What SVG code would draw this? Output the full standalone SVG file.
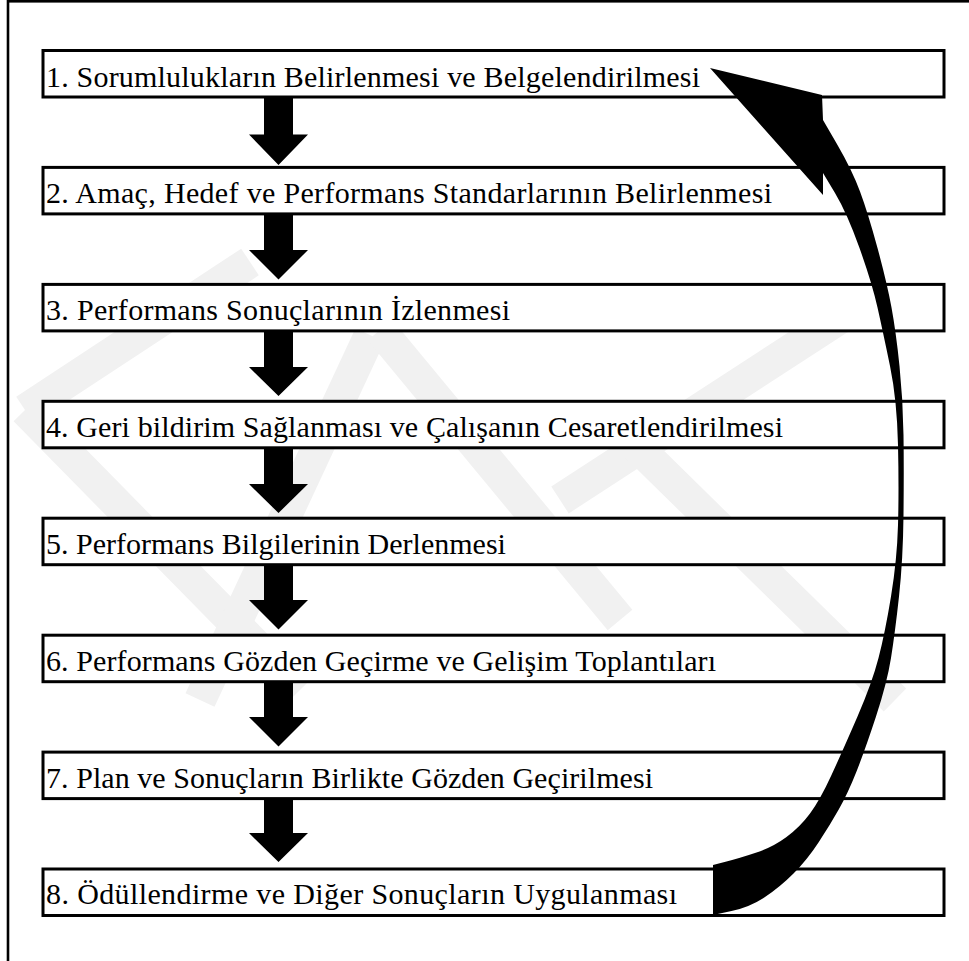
<svg xmlns="http://www.w3.org/2000/svg" width="969" height="961" viewBox="0 0 969 961">
<style>
.frame{fill:none;stroke:#000;stroke-width:2.6}
.box{fill:#fff;stroke:#000;stroke-width:3}
.lbl{font-family:'Liberation Serif','Times New Roman',serif;font-size:30px;fill:#000}
.wm{stroke:#f1f1f1;stroke-width:32;stroke-linecap:butt;fill:none}
.arr{fill:#000;stroke:none}
</style>
<rect width="969" height="961" fill="#fff"/>
<g id="watermark">
<line class="wm" x1="25" y1="410" x2="250" y2="262"/>
<line class="wm" x1="25" y1="410" x2="300" y2="690"/>
<line class="wm" x1="200" y1="700" x2="370" y2="335"/>
<line class="wm" x1="380" y1="330" x2="620" y2="620"/>
<line class="wm" x1="560" y1="500" x2="840" y2="318"/>
<line class="wm" x1="620" y1="430" x2="895" y2="700"/>
</g>
<rect class="frame" x="8" y="1.3" width="1000" height="1000"/>
<g id="node1"><rect class="box" x="43" y="50.5" width="901" height="46.5"/><text class="lbl" x="46" y="87" textLength="654" lengthAdjust="spacing">1. Sorumlulukların Belirlenmesi ve  Belgelendirilmesi</text></g>
<g id="node2"><rect class="box" x="43" y="167.4" width="901" height="46.5"/><text class="lbl" x="46" y="203" textLength="726" lengthAdjust="spacing">2. Amaç, Hedef ve Performans Standarlarının Belirlenmesi</text></g>
<g id="node3"><rect class="box" x="43" y="284.4" width="901" height="46.5"/><text class="lbl" x="46" y="319.5" textLength="464" lengthAdjust="spacing">3. Performans Sonuçlarının İzlenmesi</text></g>
<g id="node4"><rect class="box" x="43" y="401.3" width="901" height="46.5"/><text class="lbl" x="46" y="436.5" textLength="737" lengthAdjust="spacing">4. Geri bildirim Sağlanması ve Çalışanın Cesaretlendirilmesi</text></g>
<g id="node5"><rect class="box" x="43" y="518.2" width="901" height="46.5"/><text class="lbl" x="46" y="553.5">5. Performans Bilgilerinin Derlenmesi</text></g>
<g id="node6"><rect class="box" x="43" y="635.2" width="901" height="46.5"/><text class="lbl" x="46" y="670.5" textLength="670" lengthAdjust="spacing">6. Performans Gözden Geçirme ve Gelişim Toplantıları</text></g>
<g id="node7"><rect class="box" x="43" y="752.1" width="901" height="46.5"/><text class="lbl" x="46" y="787.5" textLength="607" lengthAdjust="spacing">7. Plan ve Sonuçların Birlikte Gözden Geçirilmesi</text></g>
<g id="node8"><rect class="box" x="43" y="869" width="901" height="46.5"/><text class="lbl" x="46" y="904" textLength="631" lengthAdjust="spacing">8. Ödüllendirme ve Diğer Sonuçların Uygulanması</text></g>
<g id="connectors">
<polygon class="arr" points="264,97 293,97 293,134.5 308,134.5 278.5,165 249,134.5 264,134.5"/>
<polygon class="arr" points="264,214 293,214 293,250 308,250 278.5,279.5 249,250 264,250"/>
<polygon class="arr" points="264,331 293,331 293,367 308,367 278.5,396 249,367 264,367"/>
<polygon class="arr" points="264,448 293,448 293,484 308,484 278.5,513 249,484 264,484"/>
<polygon class="arr" points="264,565 293,565 293,600 308,600 278.5,629.5 249,600 264,600"/>
<polygon class="arr" points="264,682 293,682 293,717 308,717 278.5,746.5 249,717 264,717"/>
<polygon class="arr" points="264,798.5 293,798.5 293,833 308,833 278.5,862 249,833 264,833"/>
<path id="loopback" class="arr" d="M823,120 L837.5,145 Q852,170 860,191.5 Q868,213 877.5,248 Q887,283 891.5,307.5 Q896,332 899.5,366 Q903,400 903.5,435 Q904,470 903.5,515 Q903,560 899,596.5 Q895,633 891,658 Q887,683 876,716.5 Q865,750 856.5,771.5 Q848,793 839,809 Q830,825 818.5,842.5 Q807,860 793.5,873.5 Q780,887 765,897 Q750,907 731.5,911 L713,915 L713,865 L726.5,861.5 Q740,858 756.5,852.5 Q773,847 786.5,837 Q800,827 810,813.5 Q820,800 831.5,775 Q843,750 857.5,716.5 Q872,683 878.5,658 Q885,633 891,596.5 Q897,560 898,525 Q899,490 898,445 Q897,400 890,366 Q883,332 877.5,307.5 Q872,283 859.5,248 Q847,213 835,193 L823,173 L823,195 L710,68 L822,95 Z"/>
</g>
</svg>
